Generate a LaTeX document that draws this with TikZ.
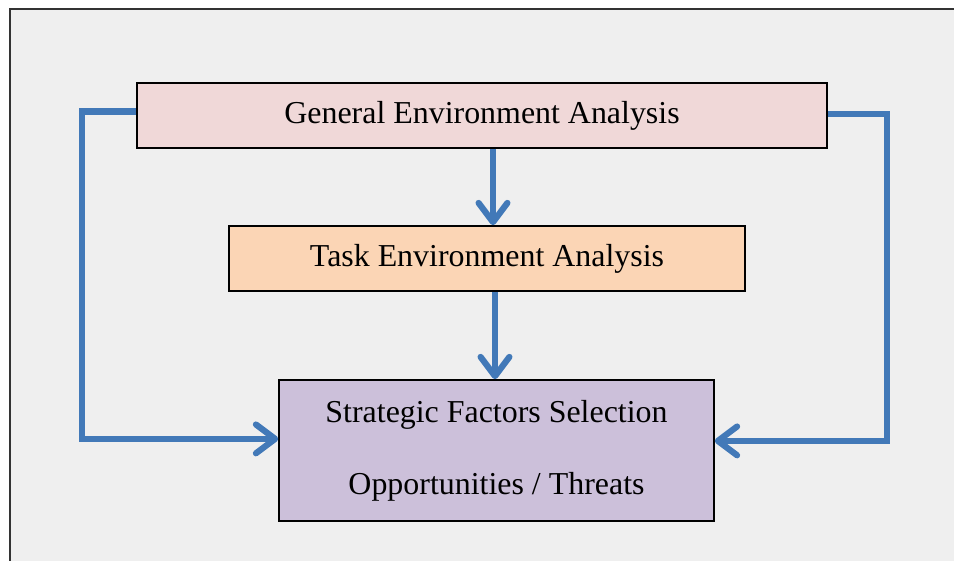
\documentclass[tikz,border=0pt]{standalone}
\usepackage{fontspec}
\setmainfont{Liberation Serif}
\usetikzlibrary{arrows.meta,positioning,calc}
\usepackage{xcolor}
\definecolor{framegray}{RGB}{239,239,239}
\definecolor{flowblue}{RGB}{66,121,184}
\definecolor{genpink}{RGB}{240,216,216}
\definecolor{taskpeach}{RGB}{251,213,181}
\definecolor{stratlav}{RGB}{204,192,218}
\tikzset{
  stage/.style  = {draw=black,line width=1.1pt,align=center,inner sep=0pt,
                   font=\fontsize{22.7}{27}\selectfont},
  flow/.style   = {-{Straight Barb[round,length=0.48cm,width=0.72cm]},
                   line width=4.4pt,color=flowblue},
}
\begin{document}
\begin{tikzpicture}
  \clip (0,0) rectangle (23.85,14);
  \draw[fill=framegray,line width=1.1pt,draw=black!80] (0.25,-1) rectangle (25,13.775);
  \node[stage,fill=genpink,minimum width=17.25cm,minimum height=1.625cm]
        (gen) at (12.05,11.1125) {General Environment Analysis};
  \node[stage,fill=taskpeach,minimum width=12.9cm,minimum height=1.625cm]
        (task) at (12.175,7.5375) {Task Environment Analysis};
  \node[stage,fill=stratlav,minimum width=10.875cm,minimum height=3.525cm]
        (strat) at (12.4125,2.7375)
        {Strategic Factors Selection\\[0.85cm]Opportunities / Threats};
  % straight down
  \draw[flow] ([xshift=0.275cm]gen.south) -- ([xshift=0.15cm]task.north);
  \draw[flow] ([xshift=0.2cm]task.south) -- ([xshift=0.2cm]task.south |- strat.north);
  % round the sides
  \draw[flow] ([yshift=0.1cm]gen.west) -- ++(-1.35,0) |- ([yshift=0.29cm]strat.west);
  \draw[flow] ([yshift=0.04cm]gen.east) -- ++(1.475,0) |- ([yshift=0.24cm]strat.east);
\end{tikzpicture}
\end{document}
